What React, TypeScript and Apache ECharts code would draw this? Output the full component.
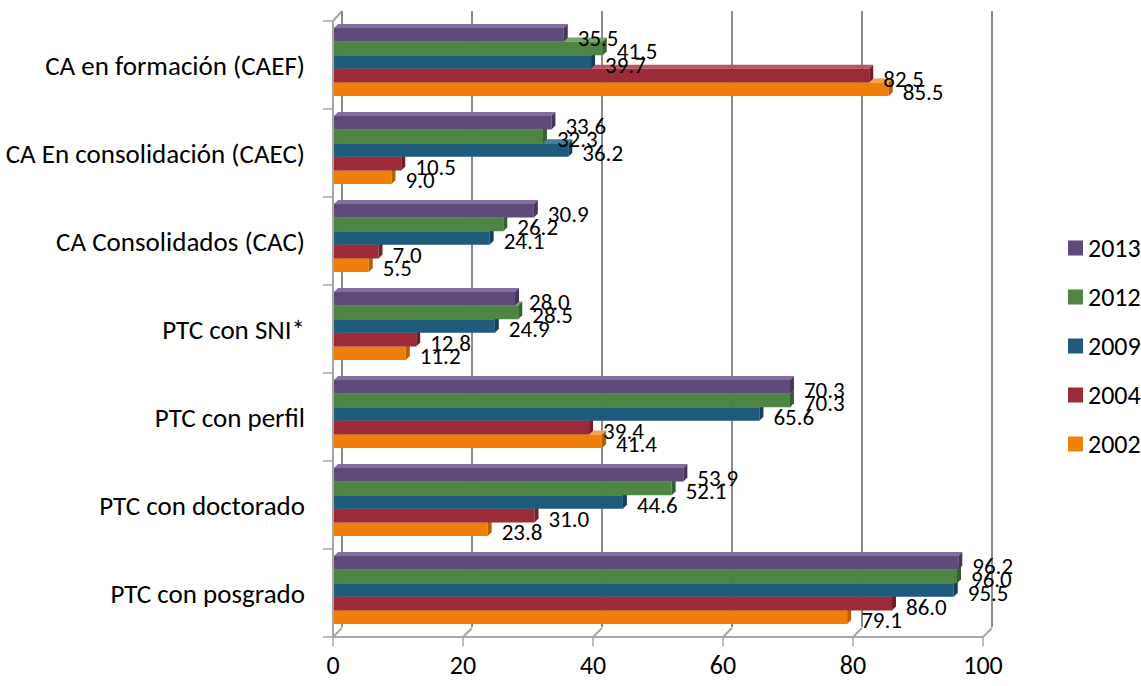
import React, { useEffect, useRef } from "react";
import * as echarts from "echarts";

const categories = [
  "PTC con posgrado",
  "PTC con doctorado",
  "PTC con perfil",
  "PTC con SNI*",
  "CA Consolidados (CAC)",
  "CA En consolidación (CAEC)",
  "CA en formación (CAEF)",
];
const years = ["2002", "2004", "2009", "2012", "2013"];
const v2002 = [79.1, 23.8, 41.4, 11.2, 5.5, 9.0, 85.5];
const v2004 = [86.0, 31.0, 39.4, 12.8, 7.0, 10.5, 82.5];
const v2009 = [95.5, 44.6, 65.6, 24.9, 24.1, 36.2, 39.7];
const v2012 = [96.0, 52.1, 70.3, 28.5, 26.2, 32.3, 41.5];
const v2013 = [96.2, 53.9, 70.3, 28.0, 30.9, 33.6, 35.5];
const seriesValues = [v2002, v2004, v2009, v2012, v2013];
const xTicks = [0, 20, 40, 60, 80, 100];

const colors = ["#f07f09", "#9c2a37", "#1e5a7c", "#4e8542", "#604a7b"];
const topColors = ["#f5a04a", "#b85563", "#4a7c9c", "#76a46a", "#8470a0"];
const sideColors = ["#b85f05", "#731f29", "#153f58", "#376030", "#45355a"];

const FONT = 'Carlito, "Liberation Sans", Arial, sans-serif';
const FL = 334;
const FW = 650;
const FT = 21;
const FB = 637;
const DX = 9;
const DY = 9;

export default function App() {
  const ref = useRef<HTMLDivElement>(null);
  useEffect(() => {
    if (!ref.current) return;
    const chart = echarts.init(ref.current, null, { renderer: "svg" });
    const series = seriesValues.map((vals, k) => ({
      type: "custom",
      name: years[k],
      xAxisIndex: 0,
      yAxisIndex: 0,
      itemStyle: { color: colors[k] },
      encode: { x: 0, y: 1 },
      data: vals.map((v, i) => [v, i]),
      renderItem: (params: any, api: any) => {
        const val = api.value(0);
        const cat = api.value(1);
        const p0 = api.coord([0, cat]);
        const p1 = api.coord([val, cat]);
        const band = api.size([0, 1])[1];
        const gh = band * 0.775;
        const h = gh / 5;
        const y = p0[1] - 3 + gh / 2 - (k + 1) * h;
        const x0 = p0[0] + 1;
        const x1 = p1[0];
        const d = 4;
        return {
          type: "group",
          children: [
            {
              type: "polygon",
              shape: { points: [[x0, y], [x0 + d, y - d], [x1 + d, y - d], [x1, y]] },
              style: { fill: topColors[k] },
            },
            {
              type: "rect",
              shape: { x: x0, y: y, width: x1 - x0, height: h },
              style: { fill: colors[k] },
            },
            {
              type: "polygon",
              shape: { points: [[x1, y], [x1 + d, y - d], [x1 + d, y + h - d], [x1, y + h]] },
              style: { fill: sideColors[k] },
            },
            {
              type: "text",
              z2: 100,
              style: {
                text: val.toFixed(1),
                x: x1 + d + 10,
                y: y + h / 2 + 3,
                verticalAlign: "middle",
                align: "left",
                fill: "#000",
                fontSize: 23,
                fontFamily: FONT,
              },
            },
          ],
        };
      },
    }));

    const graphicLines: any[] = [
      {
        type: "line",
        shape: { x1: FL - 1, y1: FT, x2: FL - 1 + DX, y2: FT - DY - 1 },
        style: { stroke: "#a6a6a6", lineWidth: 2 },
      },
    ];
    xTicks.forEach((t) => {
      const x = FL - 1 + (t / 100) * FW;
      graphicLines.push({
        type: "line",
        shape: { x1: x, y1: FB, x2: x + DX, y2: FB - DY },
        style: { stroke: "#a6a6a6", lineWidth: 2 },
      });
    });

    chart.setOption({
      animation: false,
      backgroundColor: "#ffffff",
      grid: [
        { left: FL - 1, top: FT, width: FW, height: FB - FT, containLabel: false },
        { left: FL - 1 + DX, top: FT - DY - 1, width: FW, height: FB - FT, containLabel: false },
      ],
      xAxis: [
        {
          type: "value",
          gridIndex: 0,
          min: 0,
          max: 100,
          interval: 20,
          axisLine: { show: true, lineStyle: { color: "#a6a6a6", width: 2 } },
          axisTick: { show: true, length: 9, lineStyle: { color: "#a6a6a6", width: 1.5 } },
          axisLabel: { fontSize: 26, color: "#000", margin: 15, fontFamily: FONT },
          splitLine: { show: false },
        },
        {
          type: "value",
          gridIndex: 1,
          min: 0,
          max: 100,
          interval: 20,
          axisLine: { show: false },
          axisTick: { show: false },
          axisLabel: { show: false },
          splitLine: { show: true, lineStyle: { color: "#8c8c8c", width: 2 } },
        },
      ],
      yAxis: [
        {
          type: "category",
          gridIndex: 0,
          data: categories,
          axisLine: { show: true, lineStyle: { color: "#a6a6a6", width: 2 } },
          axisTick: { show: true, length: 10, interval: 0, lineStyle: { color: "#a6a6a6", width: 1.5 } },
          axisLabel: { fontSize: 27, color: "#000", margin: 28, fontFamily: FONT, interval: 0, padding: [4, 0, 0, 0] },
          splitLine: { show: false },
        },
        {
          type: "value",
          gridIndex: 1,
          show: false,
        },
      ],
      legend: {
        data: ["2013", "2012", "2009", "2004", "2002"],
        orient: "vertical",
        left: 1063,
        top: 230,
        icon: "rect",
        itemWidth: 15,
        itemHeight: 15,
        itemGap: 23,
        textStyle: { fontSize: 26, color: "#000", fontFamily: FONT, lineHeight: 25 },
      },
      graphic: graphicLines,
      series,
    });
    return () => chart.dispose();
  }, []);
  return (
    <div
      ref={ref}
      style={{ position: "absolute", left: 0, top: 0, width: 1141, height: 686, background: "#fff" }}
    />
  );
}
